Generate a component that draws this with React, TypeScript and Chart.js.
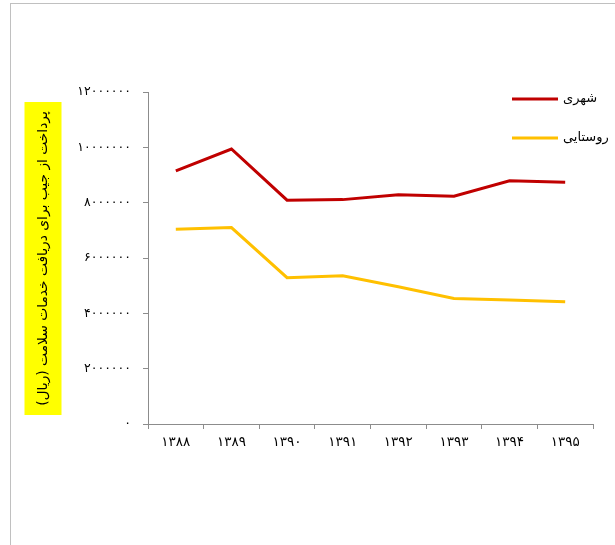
import React, { useEffect, useRef } from "react";
import { Chart, registerables } from "chart.js";

Chart.register(...registerables);

// ---- data ----
const years = ["۱۳۸۸", "۱۳۸۹", "۱۳۹۰", "۱۳۹۱", "۱۳۹۲", "۱۳۹۳", "۱۳۹۴", "۱۳۹۵"];
const urbanValues = [9150000, 9940000, 8090000, 8110000, 8290000, 8230000, 8790000, 8740000];
const ruralValues = [7040000, 7100000, 5290000, 5360000, 4960000, 4540000, 4480000, 4420000];
const seriesNames = ["شهری", "روستایی"];
const seriesColors = ["#C00000", "#FFC000"];
const yTitle = "پرداخت از جیب برای دریافت خدمات سلامت (ریال)";
const yMin = 0;
const yMax = 12000000;
const yStep = 2000000;

const FONT = "'DejaVu Sans', Tahoma, sans-serif";
const toPersian = (n: number | string) =>
  String(n).replace(/\d/g, (d) => "۰۱۲۳۴۵۶۷۸۹"[Number(d)]);

const decorPlugin = {
  id: "decor",
  afterDraw(chart: any) {
    const { ctx, chartArea } = chart;
    ctx.save();
    // y-axis title in yellow box
    const boxW = 37;
    const boxH = 313;
    const cx = 43;
    const cy = (chartArea.top + chartArea.bottom) / 2 + 0.5;
    ctx.fillStyle = "#FFFF00";
    ctx.fillRect(cx - boxW / 2, cy - boxH / 2, boxW, boxH);
    ctx.translate(cx, cy);
    ctx.rotate(-Math.PI / 2);
    ctx.fillStyle = "#000";
    ctx.font = `13.8px ${FONT}`;
    ctx.textAlign = "center";
    ctx.textBaseline = "middle";
    ctx.fillText(yTitle, 0, 0);
    ctx.restore();

    // legend
    ctx.save();
    chart.data.datasets.forEach((ds: any, i: number) => {
      const y = chartArea.top + 7 + i * 39;
      ctx.strokeStyle = ds.borderColor;
      ctx.lineWidth = 3;
      ctx.beginPath();
      ctx.moveTo(chartArea.right - 81, y);
      ctx.lineTo(chartArea.right - 35, y);
      ctx.stroke();
      ctx.fillStyle = "#000";
      ctx.font = `13px ${FONT}`;
      ctx.textAlign = "left";
      ctx.textBaseline = "middle";
      ctx.fillText(ds.label, chartArea.right - 30, y);
    });
    ctx.restore();
  },
};

export default function App() {
  const canvasRef = useRef<HTMLCanvasElement | null>(null);

  useEffect(() => {
    const canvas = canvasRef.current;
    if (!canvas) return;
    const chart = new Chart(canvas, {
      type: "line",
      data: {
        labels: years,
        datasets: [
          {
            label: seriesNames[0],
            data: urbanValues,
            borderColor: seriesColors[0],
            backgroundColor: seriesColors[0],
            borderWidth: 3,
            pointRadius: 0,
            tension: 0,
          },
          {
            label: seriesNames[1],
            data: ruralValues,
            borderColor: seriesColors[1],
            backgroundColor: seriesColors[1],
            borderWidth: 3,
            pointRadius: 0,
            tension: 0,
          },
        ],
      },
      options: {
        responsive: false,
        animation: false,
        devicePixelRatio: 1,
        layout: { padding: { left: 0, top: 92, right: 22, bottom: 0 } },
        plugins: {
          legend: { display: false },
          tooltip: { enabled: false },
          title: { display: false },
        },
        scales: {
          x: {
            offset: true,
            grid: {
              offset: true,
              drawOnChartArea: false,
              drawTicks: true,
              tickLength: 5,
              color: "#8c8c8c",
            },
            border: { color: "#8c8c8c", width: 1 },
            ticks: {
              color: "#000",
              font: { family: FONT, size: 13.5 },
              padding: 5,
              maxRotation: 0,
              autoSkip: false,
            },
            afterFit(scale: any) {
              scale.height = 121;
            },
          },
          y: {
            min: yMin,
            max: yMax,
            grid: {
              drawOnChartArea: false,
              drawTicks: true,
              tickLength: 5,
              color: "#8c8c8c",
            },
            border: { color: "#8c8c8c", width: 1 },
            ticks: {
              stepSize: yStep,
              color: "#000",
              font: { family: FONT, size: 12.5 },
              padding: 12,
              callback: (v: any) => toPersian(v),
            },
            afterFit(scale: any) {
              scale.width = 148;
            },
          },
        },
      },
      plugins: [decorPlugin],
    });
    return () => chart.destroy();
  }, []);

  return (
    <div
      style={{
        position: "absolute",
        left: 0,
        top: 0,
        width: 615,
        height: 545,
        background: "#fff",
        overflow: "hidden",
      }}
    >
      <div
        style={{
          position: "absolute",
          left: 10,
          top: 3,
          width: 610,
          height: 550,
          borderTop: "1px solid #c0c0c0",
          borderLeft: "1px solid #c0c0c0",
        }}
      />
      <canvas
        ref={canvasRef}
        width={615}
        height={545}
        style={{ position: "absolute", left: 0, top: 0, width: 615, height: 545 }}
      />
    </div>
  );
}
